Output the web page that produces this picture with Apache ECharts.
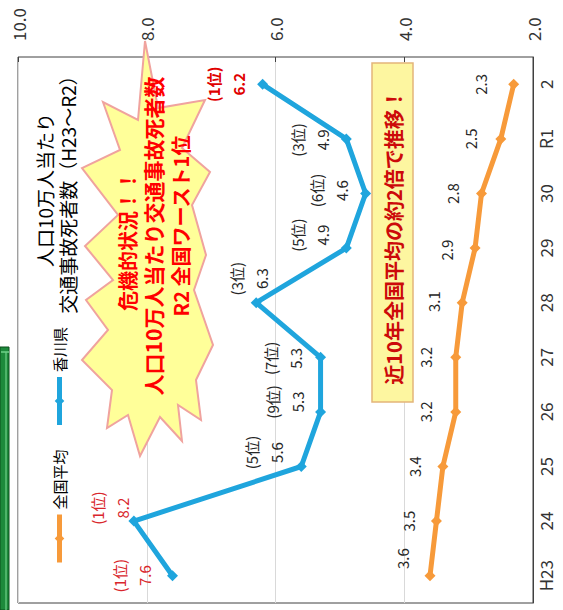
<!DOCTYPE html>
<html><head><meta charset="utf-8">
<script src="https://cdn.jsdelivr.net/npm/echarts@6/dist/echarts.min.js"></script>
<style>
html,body{margin:0;padding:0;width:563px;height:610px;overflow:hidden;background:#fff;}
#wrap{position:absolute;left:0;top:0;width:610px;height:563px;transform-origin:0 0;transform:translateY(610px) rotate(-90deg);}
#chart{width:610px;height:563px;}
</style></head><body>
<div id="wrap"><div id="chart"></div></div>
<script>
// ---- data ----
const categories = ['H23','24','25','26','27','28','29','30','R1','2'];
const kagawa = [7.6, 8.2, 5.6, 5.3, 5.3, 6.3, 4.9, 4.6, 4.9, 6.2];
const kagawaRank = [1, 1, 5, 9, 7, 3, 5, 6, 3, 1];
const national = [3.6, 3.5, 3.4, 3.2, 3.2, 3.1, 2.9, 2.8, 2.5, 2.3];
const valueMin = 2, valueMax = 10, valueStep = 2;
const seriesNames = ['全国平均', '香川県'];

// ---- label placement (px, chart frame before page rotation) ----
const kagawaLabelShift = [[0,-41],[13,-24],[14,-37],[10,-36],[-1,-38],[24,-7],[13,-36],[3,-37],[-1,-36],[0,-37]];
const nationalLabelShift = [[17,-28],[0,-28],[0,-28],[0,-30],[0,-30],[1,-29],[-2,-29],[0,-29],[0,-30],[0,-33]];

const FONT = '"Noto Sans CJK JP","Noto Sans",sans-serif';
const BLUE = '#1fa5dd', ORANGE = '#f79a3a';

// burst outline, given in page (rotated view) coordinates, converted to chart frame
const burstPage = [[145,41],[158,108],[205,100],[182,148],[210,172],[192,205],[206,255],[194,290],[213,345],[196,380],[201,420],[178,405],[182,441],[160,417],[140,456],[128,415],[107,428],[112,390],[82,360],[108,330],[86,300],[113,280],[85,246],[118,215],[82,168],[120,150],[103,102],[138,120]];
const toFrame = p => [610 - p[1], p[0]];

const chart = echarts.init(document.getElementById('chart'), null, {renderer:'svg'});

const kagawaData = kagawa.map((v,i)=>({value:v, label:{offset:kagawaLabelShift[i]}}));
const nationalData = national.map((v,i)=>({value:v, label:{offset:nationalLabelShift[i]}}));

const burstText = (txt, x, y, size) => ({type:'text', z:21, x:x, y:y, style:{
  text:txt, align:'center', verticalAlign:'middle', font:'bold ' + size + 'px ' + FONT, fill:'#ff0000'}});

chart.setOption({
  animation:false,
  textStyle:{fontFamily:FONT},
  title:{
    text:'人口10万人当たり\n交通事故死者数（H23～R2）',
    left:420, top:33, textAlign:'center', padding:0,
    textStyle:{fontSize:19, fontWeight:'normal', color:'#000', lineHeight:23, fontFamily:FONT}
  },
  legend:{
    data:seriesNames.map(n=>({name:n, lineStyle:{width:5}})),
    left:45, top:52, itemWidth:48, itemHeight:12, itemGap:22, padding:0,
    textStyle:{fontSize:15, color:'#000', fontFamily:FONT}
  },
  grid:{left:7, right:57, top:18, bottom:30, show:true, borderColor:'#404040', borderWidth:1, outerBoundsMode:'none'},
  xAxis:{
    type:'category', data:categories, boundaryGap:true, position:'bottom',
    axisLine:{show:true, lineStyle:{color:'#404040'}}, axisTick:{show:false},
    axisLabel:{fontSize:17, color:'#333', margin:4, fontFamily:FONT}
  },
  yAxis:{
    type:'value', position:'right', min:valueMin, max:valueMax, interval:valueStep,
    axisLine:{show:false},
    axisTick:{show:true, inside:true, length:5, lineStyle:{color:'#404040'}},
    axisLabel:{fontSize:17, color:'#333', margin:16, fontFamily:FONT, formatter:v=>v.toFixed(1)},
    splitLine:{lineStyle:{color:'#d9d9d9'}}
  },
  series:[
    {
      name:'全国平均', type:'line', data:nationalData, symbol:'diamond', symbolSize:11,
      lineStyle:{width:5, color:ORANGE}, itemStyle:{color:ORANGE}, z:3,
      label:{show:true, position:'inside', fontSize:15, color:'#262626', fontFamily:FONT,
        formatter:p=>p.value.toFixed(1)}
    },
    {
      name:'香川県', type:'line', data:kagawaData, symbol:'diamond', symbolSize:11,
      lineStyle:{width:5, color:BLUE}, itemStyle:{color:BLUE}, z:4,
      label:{show:true, position:'inside', fontFamily:FONT,
        formatter:p=>{
          const i = p.dataIndex, r = kagawaRank[i];
          const top = r === 1, last = i === kagawa.length - 1;
          const k = last ? 'b' : (top ? 'r' : 'n');
          return '{' + k + '|(' + r + '位)}\n{' + k + '|' + p.value.toFixed(1) + '}';
        },
        rich:{
          n:{fontSize:15, color:'#262626', lineHeight:25, fontFamily:FONT},
          r:{fontSize:15, color:'#d9262c', lineHeight:25, fontFamily:FONT},
          b:{fontSize:15, color:'#e00000', lineHeight:25, fontWeight:'bold', fontFamily:FONT}
        }
      }
    }
  ],
  graphic:[
    {type:'rect', z:10, shape:{x:0, y:0, width:263, height:9}, style:{fill:'#1d8a3b', stroke:'#0c4f1d', lineWidth:1}},
    {type:'line', z:11, shape:{x1:0, y1:6, x2:258, y2:6}, style:{stroke:'#5fc27a', lineWidth:1.5}},
    {type:'line', z:11, shape:{x1:258, y1:1, x2:258, y2:9}, style:{stroke:'#6fd08a', lineWidth:1.5}},
    {type:'polygon', z:20, shape:{points:burstPage.map(toFrame)}, style:{fill:'#ffff99', stroke:'#f0a39e', lineWidth:2}},
    burstText('危機的状況！！', 369, 127, 20),
    burstText('人口10万人当たり交通事故死者数', 374, 153, 21),
    burstText('R2 全国ワースト1位', 384, 180, 20),
    {type:'rect', z:20, shape:{x:208, y:372, width:339, height:41}, style:{fill:'#fdf6a0', stroke:'#e3b57a', lineWidth:1.5}},
    {type:'text', z:21, x:373, y:393, style:{
      text:'近10年全国平均の約2倍で推移！', align:'center', verticalAlign:'middle',
      font:'bold 20px ' + FONT, fill:'#cc0a0a'}}
  ]
});
</script>
</body></html>
